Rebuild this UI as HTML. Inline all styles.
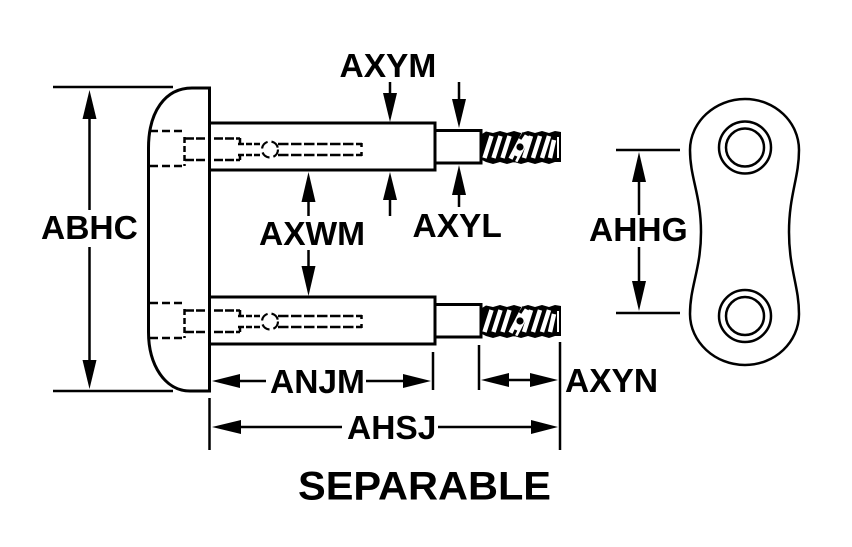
<!DOCTYPE html>
<html><head><meta charset="utf-8"><style>
html,body{margin:0;padding:0;background:#fff}
svg{display:block}
text{font-family:"Liberation Sans",sans-serif;font-weight:bold;fill:#000}
</style></head><body>
<svg width="852" height="547" viewBox="0 0 852 547" xmlns="http://www.w3.org/2000/svg">
<defs>
<g id="pin">
  <path d="M209.500 123H435V170H209.500" fill="none" stroke="#000" stroke-width="3"/>
  <path d="M435 130.500H481V163H435" fill="none" stroke="#000" stroke-width="3"/>
  <path d="M482 134L486 131.500L493 133L500 131L507 133L514 131L521 133L528 131L535 133L542 131L549 133L555 131L561 132V162L555 162L549 164L542 162L535 164L528 162L521 164L514 162L507 164L500 162L493 164L486 162L482 160Z" fill="#000"/>
  <g stroke="#fff" fill="none">
    <path d="M484.500 158L491.500 136M493.500 158L500.500 136M502.500 158L509.500 136M524 158L531 136M533 158L540 136M542 158L549 136M550 158L554 140" stroke-width="4.500"/>
    <path d="M513 160L526 135" stroke-width="10"/>
    <path d="M558 137V158" stroke-width="2"/>
  </g>
  <circle cx="520" cy="147" r="3.600" fill="#000"/>
  <path d="M524 133L520 139M516 156L513 162" stroke="#000" stroke-width="3" fill="none"/>
</g>
<g id="hidden" fill="none" stroke="#000">
  <path d="M150 131H185M150 166H185" stroke-width="2.500" stroke-dasharray="8 4"/>
  <path d="M184.500 137V166" stroke-width="2.500" stroke-dasharray="6 3"/>
  <path d="M185 138.500H205M214 138.500H240M185 160H205M214 160H240" stroke-width="2.500" stroke-dasharray="9 2"/>
  <path d="M240 138V144M240 155V160" stroke-width="2.500"/>
  <path d="M238 144H262M238 155H262" stroke-width="2.500" stroke-dasharray="6 2"/>
  <circle cx="270" cy="149.500" r="8" stroke-width="2.200" stroke-dasharray="9 4"/>
  <path d="M278 144H362M278 155H362" stroke-width="2.500" stroke-dasharray="10.500 2.500"/>
  <path d="M361.500 143V147M361.500 152V156" stroke-width="2.500"/>
</g>
</defs>

<!-- body -->
<path d="M209.500 88V391H190C165 391 148.500 365 148.500 332V148C148.500 112 165 88 192 88Z" fill="#fff" stroke="#000" stroke-width="3"/>
<use href="#pin"/>
<use href="#pin" y="174"/>
<use href="#hidden"/>
<use href="#hidden" y="172"/>

<!-- plate -->
<path d="M745 99C775 99 799 122 799 150C799 178 789 195 789 232C789 269 799 286 799 314C799 342 775 365 745 365C715 365 690 342 690 314C690 286 701 269 701 232C701 195 690 178 690 150C690 122 715 99 745 99Z" fill="#fff" stroke="#000" stroke-width="2.500"/>
<circle cx="745" cy="147.500" r="26" fill="none" stroke="#000" stroke-width="2.500"/>
<circle cx="745" cy="147.500" r="19" fill="none" stroke="#000" stroke-width="2.500"/>
<circle cx="745" cy="316" r="26" fill="none" stroke="#000" stroke-width="2.500"/>
<circle cx="745" cy="316" r="19" fill="none" stroke="#000" stroke-width="2.500"/>

<!-- dimension lines -->
<g stroke="#000" stroke-width="2.500" fill="none">
  <path d="M53 87H173M53 391H173"/>
  <path d="M89.500 110V210M89.500 247V370"/>
  <path d="M616 150H680M616 313H680"/>
  <path d="M639 170V215M639 247V290"/>
  <path d="M390 82V105M390 188V216"/>
  <path d="M459 82V105M459 185V207"/>
  <path d="M308.500 188V216M308.500 250V275"/>
  <path d="M209.500 398V450M433 352V390M479 345V390M560 342V450"/>
  <path d="M240 381H266M366 381H405"/>
  <path d="M505 380H535"/>
  <path d="M240 427H342M438 427H535"/>
</g>

<!-- arrowheads -->
<g fill="#000">
  <path d="M89.500 90L82.500 119H96.500Z"/>
  <path d="M89.500 389L82.500 360H96.500Z"/>
  <path d="M639 152L632 182H646Z"/>
  <path d="M639 311L632 281H646Z"/>
  <path d="M390 122L383 93H397Z"/>
  <path d="M390 172L383 200H397Z"/>
  <path d="M459 128L452 99H466Z"/>
  <path d="M459 165L452 195H466Z"/>
  <path d="M308.500 172L301.500 202H315.500Z"/>
  <path d="M308.500 296L301.500 266H315.500Z"/>
  <path d="M212 381L240 374V388Z"/>
  <path d="M431 381L403 374V388Z"/>
  <path d="M481 380L509 373V387Z"/>
  <path d="M558 380L530 373V387Z"/>
  <path d="M212 427L241 420V434Z"/>
  <path d="M558 427L531 420V434Z"/>
</g>

<!-- labels -->
<g font-size="33.500">
  <text x="339.500" y="77">AXYM</text>
  <text x="41" y="239">ABHC</text>
  <text x="259" y="245">AXWM</text>
  <text x="412.500" y="237">AXYL</text>
  <text x="589" y="241">AHHG</text>
  <text x="270" y="393">ANJM</text>
  <text x="565" y="392">AXYN</text>
  <text x="347" y="439">AHSJ</text>
</g>
<text x="298" y="499.500" font-size="40" textLength="253" lengthAdjust="spacingAndGlyphs">SEPARABLE</text>
</svg>
</body></html>
